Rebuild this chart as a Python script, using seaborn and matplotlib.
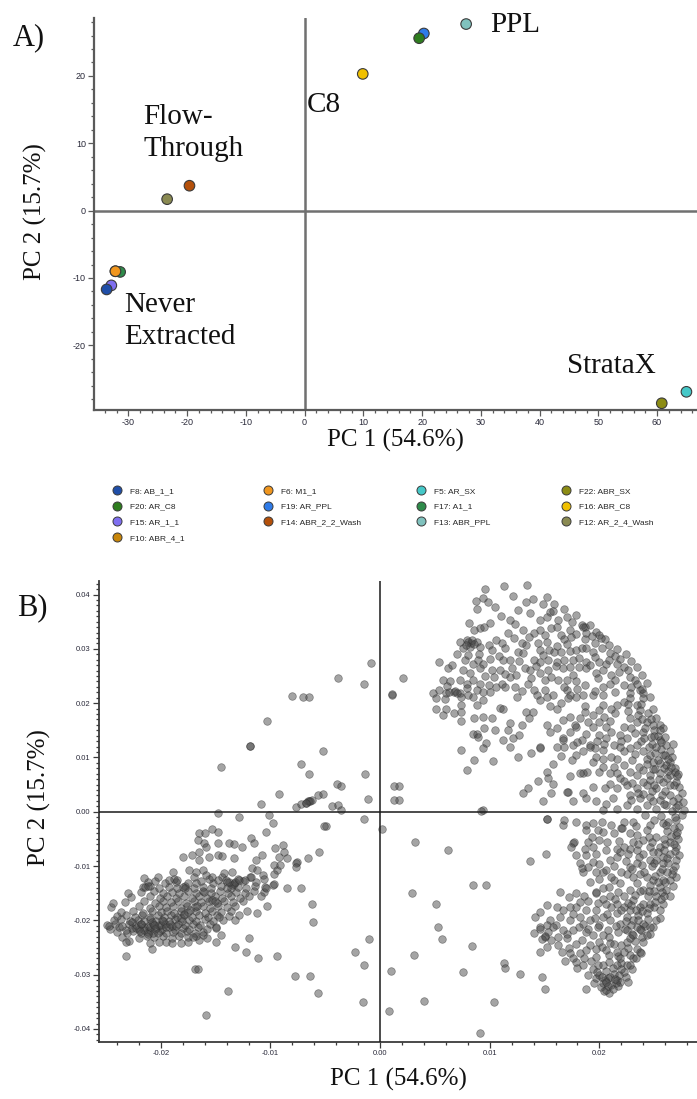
import numpy as np
import pandas as pd
import matplotlib
matplotlib.use("Agg")
import matplotlib.pyplot as plt
import seaborn as sns
from matplotlib.lines import Line2D
from matplotlib.ticker import MultipleLocator, FuncFormatter

# ---------------- Panel A data (scores) ----------------
sample_labels = ["F10: ABR_4_1", "F17: A1_1", "F6: M1_1", "F15: AR_1_1", "F8: AB_1_1",
                 "F19: AR_PPL", "F20: AR_C8", "F16: ABR_C8", "F13: ABR_PPL",
                 "F12: AR_2_4_Wash", "F14: ABR_2_2_Wash", "F22: ABR_SX", "F5: AR_SX"]
pc1_scores = [-32.2, -31.4, -32.2, -32.9, -33.7, 20.3, 19.5, 9.9, 27.5, -23.4, -19.6, 60.8, 65.0]
pc2_scores = [-9.0, -9.1, -9.0, -11.1, -11.7, 26.3, 25.6, 20.3, 27.7, 1.7, 3.7, -28.6, -26.9]
sample_colors = ["#c8860a", "#2e8b4a", "#f0961e", "#7f6ff0", "#1f4ea8",
                 "#2f7be8", "#2e7d1e", "#f0c000", "#80c2be",
                 "#8a8a52", "#b4500a", "#8c8c14", "#45c8c8"]
legend_columns = [["F8: AB_1_1", "F20: AR_C8", "F15: AR_1_1", "F10: ABR_4_1"],
                  ["F6: M1_1", "F19: AR_PPL", "F14: ABR_2_2_Wash"],
                  ["F5: AR_SX", "F17: A1_1", "F13: ABR_PPL"],
                  ["F22: ABR_SX", "F16: ABR_C8", "F12: AR_2_4_Wash"]]
group_names = ["PPL", "C8", "Flow-\nThrough", "Never\nExtracted", "StrataX"]
group_x = [31.6, 0.4, -27.4, -30.7, 44.6]
group_y = [27.6, 15.7, 11.5, -16.4, -23.1]

# ---------------- Panel B data (loadings, in units of 1e-3) ----------------
arc_top = [(9.6,41.0),(11.3,41.6),(13.4,41.8),(12.1,39.7),(9.4,39.3),(8.7,38.9),(9.8,38.7),(13.3,38.6),(13.9,39.1),
 (15.2,39.5),(14.9,38.2),(15.9,38.2),(8.8,37.3),(13.7,36.6),(15.5,36.8),(15.8,37.0),(16.8,37.3),(17.9,36.3),(8.1,34.7),
 (11.8,35.4),(10.0,34.8),(9.1,33.9),(8.6,33.5),(9.5,34.1),(11.7,33.0),(13.0,33.5),(14.0,33.0),(14.6,33.5),(14.6,35.4),
 (15.2,35.8),(15.6,33.8),(16.2,35.4),(17.0,35.8),(17.5,35.0),(18.4,34.4),(18.7,34.1),(19.1,34.4),(16.5,32.5),(16.8,31.9),
 (17.3,33.5),(17.9,32.8),(18.7,31.9),(19.7,33.1),(20.0,32.5),(20.5,31.9),(19.6,31.1),(7.3,31.3),(7.9,31.6),(8.3,31.0),
 (8.2,30.4),(8.8,31.3),(9.1,30.4),(7.6,30.1),(9.9,30.7),(10.2,29.8),(11.1,31.0),(11.4,30.1),(12.9,31.0),(13.3,30.7),
 (14.4,31.0),(15.2,31.3),(12.6,29.5),(13.0,29.2),(14.6,29.8),(14.9,28.9),(15.4,29.8),(15.9,29.5),(16.5,29.5),(17.3,29.7),
 (17.9,29.8),(18.4,30.1),(18.8,30.1),(19.4,29.5),(20.2,30.1),(21.0,29.2),(21.4,28.6),(21.9,28.2),(8.0,31.3),(8.4,31.6),
 (7.8,30.8),(8.6,30.9),(18.5,34.0),(20.1,32.0)]
arc_upper = [(5.4,27.6),(6.2,26.4),(7.7,27.9),(8.5,27.3),(8.9,27.9),(9.4,27.3),(10.0,28.2),(10.8,28.7),(11.2,27.9),
 (11.8,27.9),(14.0,27.9),(14.6,27.6),(15.3,27.9),(16.1,27.6),(17.6,27.9),(18.8,27.6),(19.6,28.5),(20.0,27.6),(20.6,27.3),
 (21.6,27.3),(22.2,26.7),(22.6,26.1),(7.6,26.1),(8.2,25.5),(9.1,26.4),(10.2,26.1),(10.9,26.1),(13.2,26.4),(13.7,26.1),
 (14.6,25.5),(15.3,26.1),(16.7,26.4),(17.3,26.7),(18.1,26.7),(18.8,26.4),(19.7,25.5),(20.3,26.1),(21.1,25.2),(22.8,24.9),
 (23.2,24.3),(5.7,24.3),(6.4,24.0),(7.3,24.3),(7.9,23.6),(8.5,24.3),(9.1,23.6),(9.9,23.3),(10.6,23.0),(11.1,23.6),
 (11.8,24.9),(12.4,25.2),(13.8,24.6),(15.0,24.3),(16.2,24.3),(17.0,24.3),(17.6,25.2),(18.7,23.3),(20.3,23.0),(21.4,24.3),
 (22.2,23.3),(23.7,22.4),(24.0,21.8),(4.8,21.8),(5.4,22.4),(6.0,21.8),(6.7,22.1),(7.3,21.8),(8.0,21.5),(8.8,22.4),
 (9.4,22.1),(10.0,22.1),(11.4,23.0),(12.3,23.0),(14.0,22.4),(14.3,21.5),(15.0,22.4),(15.8,21.5),(17.0,22.4),(17.3,21.5),
 (18.5,21.5),(19.4,21.5),(20.3,21.5),(21.4,22.1),(22.8,21.8),(24.6,21.2),(6.3,22.0),(6.8,22.3),(7.0,21.8),(23.9,22.6),
 (23.4,23.6),(2.1,24.6),(1.1,21.5)]
arc_upper_fill = [(10.5,37.8),(12.6,37.2),(11.0,36.0),(12.3,34.6),(16.1,34.0),(17.4,32.2),(18.8,33.0),(19.3,32.3),
 (20.9,30.8),(21.6,30.0),(22.4,29.0),(22.9,27.8),(23.4,26.6),(23.9,25.2),(24.3,23.8),(22.9,23.0),(21.8,25.8),(20.9,27.9),
 (19.1,27.0),(18.1,28.4),(16.8,28.0),(16.0,26.9),(15.6,24.9),(14.2,26.8),(12.7,27.8),(12.0,26.5),(11.4,25.4),(10.4,24.8),
 (9.6,25.0),(8.0,28.8),(7.0,29.0),(6.6,27.0),(9.0,29.1),(10.6,31.6),(12.2,32.0),(13.6,32.2),(15.0,32.6),(16.1,30.6),
 (17.0,30.9),(6.1,23.1),(7.9,22.8),(12.9,22.3),(13.5,23.6),(16.8,23.0),(18.0,22.6),(19.6,22.3),(21.0,23.6),(19.9,24.6),
 (17.9,24.0)]
arc_mid = [(5.1,20.9),(5.9,20.8),(7.4,21.2),(8.5,21.2),(9.4,20.6),(5.1,19.0),(6.0,19.0),(5.7,17.8),(6.7,18.1),(7.4,19.7),
 (7.4,18.4),(7.4,16.7),(8.8,19.7),(8.6,17.2),(9.4,17.5),(10.2,17.2),(10.9,19.2),(11.2,19.0),(12.5,21.2),(13.3,18.4),
 (13.9,18.4),(13.6,17.2),(14.6,20.6),(15.2,21.2),(15.5,19.4),(16.1,19.0),(16.5,20.0),(17.1,20.9),(17.9,21.2),(18.7,19.4),
 (18.7,18.4),(19.4,17.8),(20.0,18.7),(20.3,19.7),(21.1,19.0),(21.6,19.7),(21.4,18.1),(22.2,20.3),(22.8,20.9),(23.4,19.7),
 (24.0,20.9),(23.7,18.7),(24.4,18.1),(24.9,19.0),(25.2,17.2),(25.5,16.0),(25.8,15.4),(24.3,16.6),(23.4,16.6),(22.8,17.2),
 (22.2,15.7),(21.9,14.1),(22.5,13.5),(24.0,14.7),(24.7,13.8),(25.5,13.2),(26.1,12.3),(26.4,11.1),(25.8,10.4),(26.4,9.2),
 (26.1,8.6),(25.5,8.9),(24.9,9.2),(24.3,9.8),(24.0,11.1),(23.4,12.3),(22.8,11.7),(22.2,11.1),(21.6,9.8),(22.2,8.6),
 (22.8,7.4),(23.4,6.8),(24.0,7.7),(24.6,6.8),(25.5,7.1),(26.4,6.8),(26.9,7.4),(27.0,5.5),(26.4,4.9),(25.8,5.5),
 (25.2,4.3),(24.3,4.9),(23.4,4.3),(22.5,4.9),(21.9,6.2),(21.6,4.3),(21.0,5.2),(20.5,4.3),(22.8,3.1),(23.7,2.5),
 (24.6,2.8),(25.5,2.2),(26.4,3.1),(27.2,2.5),(27.0,0.9),(26.1,1.2),(25.2,0.6),(24.3,1.2),(23.4,0.6),(22.5,1.2),
 (21.6,0.6),(20.6,1.5),(20.3,0.3),(19.7,1.9),(18.8,2.5),(17.6,1.9),(17.1,3.7),(19.4,4.6),(18.5,3.4),(21.0,7.1),
 (20.0,7.4),(18.9,7.4),(18.5,7.1),(20.3,8.3),(21.3,8.3),(19.4,9.2),(19.7,10.1),(20.3,9.8),(21.1,10.1),(17.9,10.4),
 (18.5,11.1),(19.1,12.3),(19.6,11.7),(20.3,11.4),(21.3,12.3),(20.6,13.5),(20.0,14.1),(18.8,14.4),(17.9,15.7),(17.3,14.7),
 (16.7,13.5),(16.1,12.0),(16.8,12.0),(17.6,12.3),(18.4,13.2),(19.4,15.7),(20.0,16.6),(20.6,15.7),(21.1,14.7),(16.7,16.9),
 (17.3,17.5),(16.1,15.4),(15.2,16.0),(15.5,14.7),(14.6,11.7),(13.8,10.8),(12.6,10.1),(11.8,12.0),(11.2,13.2),(12.1,13.5),
 (12.7,14.1),(11.7,15.0),(12.9,16.0),(11.8,16.3),(10.5,15.0),(9.5,15.4),(8.8,14.4),(8.5,14.4),(8.9,13.8),(9.7,12.6),
 (9.4,11.7),(7.4,11.4),(8.6,9.5),(10.3,9.3),(7.9,7.7),(15.2,7.4),(15.3,6.2),(14.4,5.7),(13.5,4.4),(13.0,3.4),
 (15.8,5.2),(17.0,3.7),(17.3,6.5),(14.9,1.9),(15.6,3.4),(9.4,0.3),(9.2,0.2),(18.2,7.1),(19.1,12.0),(17.8,15.9),
 (16.7,13.3),(14.6,11.9),(1.7,4.8),(1.7,2.15)]
rim_upper = [(25.0,15.0),(25.3,14.0),(24.8,12.5),(25.6,11.5),(26.0,10.5),(26.6,10.0),(26.9,8.0),(27.1,6.5),(27.3,4.5),
 (27.5,3.5),(27.6,1.8),(27.7,0.4),(26.7,2.0),(26.0,3.8),(25.4,6.0),(24.9,7.8),(26.2,6.2),(24.6,10.5),(25.1,10.8),
 (23.8,13.0),(23.2,14.5),(24.2,15.5),(23.5,17.8),(24.7,17.0),(26.0,13.8),(26.7,12.5),(25.9,8.0),(24.0,5.5),(23.0,9.5),
 (23.6,8.3),(22.0,13.0),(25.2,12.0),(26.3,7.5),(26.8,5.0),(25.7,3.0),(27.2,1.2),(24.8,3.8),(25.3,9.5),
 (26.6,0.2),(25.9,1.5),(24.9,2.0),(24.0,3.2),(22.9,2.1),(21.2,2.6),(22.2,5.6),(23.0,5.3),(24.6,5.8),(25.1,7.9),
 (24.3,8.8),(23.2,10.6),(24.5,12.0),(25.6,12.8),(25.0,14.0),(24.1,13.6),(22.9,15.4),(23.9,17.0),(24.9,16.0),(25.5,15.0),
 (26.3,9.8),(27.2,6.9),(26.5,8.3),(25.0,4.9),(23.5,3.4),(21.6,7.2),(20.4,12.5),(21.9,12.0),(22.6,18.6),(21.0,16.8),
 (20.4,17.5),(19.0,16.6),(18.2,17.2),(19.8,13.0),(18.0,12.8),(17.5,9.5),(16.5,10.2),(15.8,8.8),(23.8,19.8),(22.6,19.8)]
arc_low = [(15.2,-1.4),(16.7,-2.5),(16.8,-1.5),(17.9,-1.8),(18.8,-2.5),(19.4,-2.1),(20.2,-1.8),(21.1,-2.5),(18.8,-3.4),
 (19.9,-3.4),(20.3,-3.7),(22.2,-1.8),(23.1,-1.8),(24.6,-2.5),(25.8,-2.1),(27.0,-1.5),(27.5,-0.6),(27.3,-2.8),(27.0,-4.3),
 (26.4,-5.5),(27.0,-6.4),(26.4,-7.7),(27.0,-8.9),(26.7,-10.7),(27.0,-12.0),(26.4,-12.6),(26.1,-14.4),(26.4,-15.6),
 (25.8,-16.9),(25.5,-18.1),(25.2,-20.0),(24.9,-21.2),(24.0,-20.6),(23.4,-21.2),(24.3,-18.7),(24.6,-16.9),(25.2,-15.6),
 (25.5,-13.8),(25.8,-12.6),(25.5,-11.0),(25.8,-9.5),(25.8,-8.3),(25.5,-6.4),(25.2,-4.6),(24.3,-3.4),(23.4,-4.3),
 (22.8,-4.0),(24.0,-5.2),(24.6,-6.4),(25.2,-8.9),(24.6,-8.9),(24.0,-7.7),(23.4,-7.1),(22.8,-6.8),(22.2,-6.4),(22.6,-7.7),
 (21.9,-7.4),(21.6,-8.3),(21.0,-8.9),(20.6,-7.1),(20.0,-5.2),(19.3,-4.6),(19.4,-6.4),(19.7,-7.7),(19.4,-9.2),(18.8,-8.0),
 (18.7,-6.8),(17.6,-5.8),(17.7,-5.5),(17.4,-6.4),(15.1,-7.7),(13.7,-9.0),(6.2,-7.1),(18.5,-11.0),(18.4,-10.4),(19.1,-12.9),
 (19.7,-11.0),(20.3,-11.0),(20.0,-12.3),(20.6,-10.7),(21.3,-12.6),(21.9,-13.2),(22.5,-11.4),(22.8,-10.1),(23.4,-9.5),
 (23.7,-11.4),(24.3,-12.0),(23.4,-13.2),(24.0,-14.4),(22.8,-14.4),(22.2,-15.6),(23.1,-16.3),(23.7,-17.5),(22.8,-18.1),
 (22.2,-17.5),(21.6,-16.9),(21.0,-15.6),(20.3,-14.1),(19.7,-15.0),(20.3,-16.0),(21.1,-17.5),(21.6,-18.7),(22.5,-19.3),
 (23.1,-20.0),(21.9,-20.6),(21.0,-20.0),(20.3,-19.3),(19.7,-18.1),(18.8,-18.1),(17.9,-17.5),(17.3,-17.5),(16.7,-18.1),
 (16.1,-17.5),(15.2,-17.2),(14.6,-18.4),(14.1,-19.3),(16.4,-14.7),(17.2,-15.7),(17.9,-14.9),(18.6,-15.5),(19.7,-14.7),
 (19.1,-20.0),(18.2,-19.3),(17.3,-20.0),(16.4,-19.3),(15.5,-20.0),(14.6,-21.2),(15.2,-20.9),(5.1,-16.9),(8.5,-13.5),
 (9.7,-13.5),(15.2,-1.35),(3.2,-5.6)]
rim_lower = [(26.8,-3.0),(26.2,-3.5),(26.0,-6.0),(26.3,-9.5),(26.6,-11.5),(26.0,-13.0),(25.0,-14.5),(25.6,-16.0),
 (25.0,-17.5),(24.4,-19.8),(24.0,-17.0),(23.5,-19.0),(23.8,-21.8),(23.0,-22.5),(22.3,-21.5),(24.9,-12.5),(26.9,-7.2),
 (25.9,-5.0),(25.0,-1.5),(24.8,-10.0),(23.9,-9.8),(23.1,-12.0),(25.5,-19.5),(24.6,-22.5),(26.5,-4.5),(25.3,-7.5),
 (25.1,-11.8),(24.4,-15.5),(23.9,-18.2),(22.9,-20.8)]
arc_low_fill = [(26.9,-1.0),(26.3,-1.8),(25.6,-0.8),(24.2,-0.6),(23.3,-2.6),(22.0,-3.0),(21.3,-4.0),(21.8,-5.4),
 (23.1,-5.5),(24.5,-4.6),(26.1,-2.5),(27.2,-5.0),(26.8,-6.0),(25.9,-7.1),(24.9,-7.5),(23.6,-8.4),(22.4,-9.0),(21.3,-10.0),
 (22.0,-11.0),(23.0,-10.6),(24.1,-11.0),(25.0,-9.4),(26.2,-8.5),(26.9,-10.0),(26.2,-11.0),(25.3,-12.9),(24.6,-13.5),
 (23.7,-14.6),(23.2,-15.3),(24.5,-14.6),(25.7,-14.8),(26.7,-13.6),(25.9,-15.5),(25.1,-16.6),(24.5,-17.8),(23.3,-18.0),
 (22.6,-16.8),(21.7,-14.7),(20.9,-13.8),(21.4,-16.0),(20.6,-17.0),(19.9,-16.8),(19.0,-16.5),(18.2,-16.6),(17.6,-18.8),
 (18.5,-20.6),(20.0,-20.8),(20.8,-21.8),(21.5,-21.0),(22.4,-20.2),(23.5,-20.0),(24.2,-21.0),(23.9,-23.0),(23.2,-23.8),
 (22.0,-24.5),(21.0,-24.2),(20.2,-24.9),(20.9,-26.3),(21.7,-26.6),(22.6,-25.0),(22.0,-27.8),(21.2,-28.8),(20.6,-29.4),
 (19.9,-28.2),(19.2,-27.4),(18.6,-27.0),(18.0,-28.7),(19.5,-31.5),(20.1,-32.2),(20.9,-33.3),(21.7,-32.0),(22.4,-30.5),
 (23.0,-29.0),(22.6,-31.3),(21.9,-31.3),(20.4,-33.0),(17.0,-22.6),(16.2,-23.0),(16.0,-20.8),(17.9,-24.4),(17.2,-25.0),
 (16.6,-25.8),(16.9,-27.4),(15.8,-21.2),(18.1,-21.3),(19.0,-21.5),(19.6,-19.5),(20.7,-18.8),(22.0,-18.0),(22.9,-17.2),
 (21.1,-12.0),(20.0,-9.7),(19.0,-10.2),(18.2,-9.4),(17.9,-7.9),(19.0,-5.5),(20.7,-5.6),(21.6,-6.8),(23.5,-6.0),
 (22.1,-2.9),(24.8,-5.6),(25.7,-10.5),(27.3,-8.0),(27.1,-3.8)]
arc_bottom = [(5.3,-21.2),(5.6,-23.4),(8.4,-24.8),(7.6,-29.5),(11.3,-27.8),(11.4,-28.7),(12.8,-29.8),(14.8,-30.5),
 (15.0,-32.7),(10.4,-35.1),(9.1,-40.8),(18.8,-32.7),(14.0,-22.4),(14.6,-21.5),(15.0,-23.0),(15.3,-22.1),(15.6,-23.6),
 (16.2,-24.6),(14.6,-25.8),(15.2,-24.9),(17.0,-23.3),(17.6,-21.8),(16.7,-21.8),(18.4,-23.6),(18.8,-22.1),(19.4,-22.7),
 (19.9,-21.2),(20.3,-22.7),(20.9,-23.0),(21.7,-22.1),(22.5,-21.8),(23.1,-22.7),(23.7,-21.5),(24.6,-21.2),(24.3,-22.7),
 (24.0,-23.9),(23.4,-25.2),(22.8,-26.4),(23.7,-25.8),(23.1,-27.0),(22.5,-28.2),(22.2,-29.5),(21.6,-31.0),(21.1,-31.9),
 (20.6,-32.8),(20.3,-31.6),(19.7,-30.7),(20.0,-30.1),(20.8,-30.7),(21.3,-29.8),(21.6,-28.2),(21.9,-27.0),(22.2,-25.8),
 (20.9,-27.6),(20.3,-28.2),(19.4,-28.9),(19.0,-30.1),(18.5,-28.2),(17.9,-27.6),(18.2,-26.1),(17.3,-26.1),(17.6,-27.0),
 (19.7,-26.7),(19.7,-25.2),(20.6,-25.5),(21.3,-24.3),(21.6,-25.8),(20.0,-23.9),(19.1,-24.6),(18.8,-25.5),(22.5,-23.9),
 (22.8,-23.3),(20.5,-31.0),(21.0,-30.5),(21.5,-31.5),(20.8,-32.0),(21.2,-32.6),(20.2,-30.5),(19.8,-29.5),(21.8,-30.0),
 (22.0,-29.0),(22.8,-28.3),(23.3,-27.0),(23.8,-26.0),(20.6,-31.4),(21.4,-30.8),(15.0,-22.8),(14.8,-23.4),
 (3.1,-26.4),(1.0,-29.3),(4.0,-34.8),(0.85,-36.7),(2.9,-14.9)]
left_core = [(-22.9,-23.8),(-21.0,-24.1),(-19.5,-23.9),(-18.2,-24.2),(-16.5,-23.7),(-15.0,-24.0),
 (-23.5,-23.0),(-22.0,-23.2),(-21.3,-22.8),(-20.6,-23.1),(-19.8,-22.9),(-19.0,-23.2),(-18.3,-22.8),(-17.5,-23.1),
 (-16.8,-22.9),(-15.8,-23.2),(-24.0,-22.2),(-23.1,-22.4),(-22.5,-22.0),(-21.8,-22.3),(-21.2,-22.1),(-20.7,-22.4),
 (-20.1,-22.0),(-19.5,-22.3),(-18.9,-22.1),(-18.2,-22.4),(-17.6,-22.0),(-16.9,-22.3),(-16.2,-22.1),(-24.6,-21.5),
 (-23.8,-21.3),(-23.2,-21.7),(-22.6,-21.4),(-22.0,-21.6),(-21.5,-21.3),(-21.0,-21.7),(-20.4,-21.4),(-19.9,-21.6),
 (-19.3,-21.3),(-18.7,-21.7),(-18.0,-21.4),(-17.4,-21.6),(-16.6,-21.3),(-15.8,-21.6),(-15.0,-21.4),(-24.9,-20.8),
 (-24.2,-20.6),(-23.5,-21.0),(-22.9,-20.7),(-22.3,-20.9),(-21.8,-20.6),(-21.2,-21.0),(-20.7,-20.7),(-20.2,-20.9),
 (-19.6,-20.6),(-19.0,-21.0),(-18.4,-20.7),(-17.8,-20.9),(-17.1,-20.6),(-16.4,-20.9),(-15.5,-20.7),(-24.3,-20.0),
 (-23.6,-19.8),(-22.8,-20.2),(-22.1,-19.9),(-21.5,-20.1),(-21.0,-19.8),(-20.4,-20.2),(-19.9,-19.9),(-19.3,-20.1),
 (-18.7,-19.8),(-18.1,-20.2),(-17.4,-19.9),(-16.8,-20.1),(-16.0,-19.8),(-15.2,-20.2),(-14.3,-19.9),(-24.0,-19.2),
 (-23.2,-19.0),(-22.4,-19.4),(-21.7,-19.1),(-21.0,-19.3),(-20.3,-19.0),(-19.7,-19.4),(-19.1,-19.1),(-18.5,-19.3),
 (-17.9,-19.0),(-17.2,-19.4),(-16.5,-19.1),(-15.7,-19.3),(-14.9,-19.0),(-13.8,-19.2),(-23.6,-18.4),(-22.5,-18.2),
 (-21.6,-18.6),(-20.8,-18.3),(-20.0,-18.5),(-19.4,-18.2),(-18.8,-18.6),(-18.2,-18.3),(-17.5,-18.5),(-16.8,-18.2),
 (-16.0,-18.6),(-15.3,-18.3),(-14.5,-18.5),(-13.6,-18.2),(-24.5,-17.5),(-22.0,-17.3),(-21.0,-17.7),(-20.2,-17.4),
 (-19.5,-17.6),(-18.9,-17.3),(-18.2,-17.7),(-17.6,-17.4),(-16.9,-17.6),(-16.2,-17.3),(-15.5,-17.7),(-14.8,-17.4),
 (-14.0,-17.6),(-13.2,-17.3),(-23.3,-16.6),(-21.5,-16.4),(-20.5,-16.8),(-19.8,-16.5),(-19.1,-16.7),(-18.4,-16.4),
 (-17.7,-16.8),(-17.0,-16.5),(-16.3,-16.7),(-15.6,-16.4),(-14.9,-16.8),(-14.2,-16.5),(-13.4,-16.7),(-12.5,-16.4),
 (-22.7,-15.7),(-21.0,-15.5),(-20.1,-15.9),(-19.4,-15.6),(-18.6,-15.8),(-17.9,-15.5),(-17.2,-15.9),(-16.5,-15.6),
 (-15.8,-15.8),(-15.1,-15.5),(-14.4,-15.9),(-13.6,-15.6),(-12.8,-15.8),(-12.0,-15.5),(-21.8,-14.8),(-20.6,-14.6),
 (-19.8,-15.0),(-19.0,-14.7),(-18.3,-14.9),(-17.5,-14.6),(-16.8,-15.0),(-16.1,-14.7),(-15.4,-14.9),(-14.6,-14.6),
 (-13.9,-15.0),(-13.1,-14.7),(-12.3,-14.9),(-11.5,-14.6),(-10.6,-14.8),(-21.6,-13.9),(-21.0,-13.7),(-20.2,-14.1),
 (-19.3,-13.8),(-18.5,-14.0),(-17.8,-13.7),(-17.0,-14.1),(-16.2,-13.8),(-15.4,-14.0),(-14.5,-13.7),(-13.6,-14.1),
 (-13.0,-13.8),(-12.2,-14.0),(-11.4,-13.7),(-10.5,-13.9),(-21.2,-13.0),(-20.5,-12.8),(-19.6,-13.2),(-18.6,-12.9),
 (-17.5,-13.1),(-16.3,-12.8),(-15.2,-13.2),(-14.0,-12.9),(-13.3,-13.1),(-12.5,-12.8),(-11.3,-13.0),(-21.5,-12.2),
 (-20.3,-12.0),(-18.8,-12.4),(-17.0,-12.1),(-15.6,-12.3),(-14.4,-12.0),(-13.0,-12.4),(-11.9,-12.1),
 (-21.5,-21.8),(-21.0,-21.2),(-20.5,-21.6),(-20.0,-20.9),(-21.8,-20.6),(-22.3,-21.4),(-20.8,-20.3),(-19.5,-21.3),
 (-21.2,-22.5),(-20.3,-22.3),(-19.8,-20.2),(-22.6,-20.3),(-21.9,-21.9),(-20.6,-20.8),(-19.2,-20.6),(-18.6,-21.0),
 (-18.2,-19.6),(-17.9,-18.9),(-17.3,-18.0),(-16.7,-17.3),(-21.4,-13.8),(-21.2,-13.6),(-18.0,-13.8),(-17.8,-14.0),
 (-15.3,-16.3),(-15.1,-16.5),(-13.5,-13.5),(-13.3,-13.3),(-16.8,-13.2),(-16.2,-14.6),(-14.0,-14.0),(-13.8,-13.0)]
left_upper = [(-9.2,3.3),(-10.9,1.5),(-7.7,0.9),(-7.2,1.4),(-6.8,1.7),(-6.5,1.9),(-6.2,2.2),(-5.7,3.1),(-5.2,3.3),
 (-6.6,1.9),(-6.4,2.0),(-6.8,1.6),(-4.4,1.1),(-3.8,1.2),(-3.6,0.4),(-14.8,-0.3),(-12.9,-1.0),(-10.1,-0.6),(-9.8,-2.0),
 (-10.4,-3.7),(-4.9,-2.6),(-16.5,-3.9),(-16.0,-4.0),(-15.3,-3.1),(-14.8,-3.7),(-16.6,-5.2),(-16.1,-5.8),(-15.9,-6.4),
 (-14.8,-5.8),(-13.8,-5.8),(-13.3,-5.9),(-12.6,-6.4),(-11.8,-4.9),(-11.5,-5.7),(-9.6,-6.6),(-8.9,-6.1),(-8.8,-7.4),
 (-5.6,-7.5),(-6.6,-8.6),(-7.6,-9.2),(-7.7,-9.4),(-7.7,-10.1),(-8.5,-8.6),(-9.2,-8.3),(-9.7,-9.8),(-9.4,-10.7),
 (-18.0,-8.3),(-17.2,-7.9),(-16.5,-7.4),(-16.5,-8.9),(-15.6,-8.3),(-14.8,-8.0),(-14.4,-8.2),(-13.3,-8.6),(-18.9,-11.0),
 (-19.3,-12.6),(-18.5,-12.6),(-17.4,-10.7),(-16.8,-11.0),(-16.2,-10.7),(-15.9,-11.7),(-15.3,-12.0),(-14.8,-12.6),
 (-14.2,-11.2),(-13.5,-11.0),(-14.1,-12.6),(-13.2,-12.9),(-12.9,-12.6),(-12.3,-12.6),(-11.8,-12.0),(-11.7,-10.4),
 (-11.2,-10.7),(-10.7,-11.7),(-11.3,-8.9),(-10.8,-7.9),(-10.6,-12.3),(-9.8,-13.5),(-9.7,-13.3),(-10.4,-14.1),
 (-9.7,-11.4),(-9.1,-9.8),(-10.9,-15.5),(-10.3,-17.4),(-8.5,-14.1),(-7.2,-14.1),(-6.2,-17.0),(-6.1,-20.3),
 (-11.2,-18.7),(-12.1,-18.2),(-13.2,-20.0),(-12.9,-19.0),(-14.7,-19.3),(-15.0,-21.2),(-14.5,-22.7),(-16.2,-22.7),
 (-17.1,-23.0),(-12.0,-23.3)]
sparse_pts = [(-0.8,27.4),(-3.8,24.7),(-1.5,23.6),(1.07,21.6),(-8.0,21.4),(-7.0,21.2),(-6.5,21.2),(-10.3,16.8),
 (-11.9,12.1),(-11.9,12.2),(-5.2,11.2),(-14.5,8.3),(-7.2,8.85),(-6.5,7.0),(-1.4,6.9),(-3.9,5.2),(-3.6,4.7),(-1.1,2.4),
 (1.3,4.8),(1.3,2.2),(-5.1,-2.6),(-1.5,-1.4),(0.16,-3.1),(-23.0,-15.0),(-24.4,-16.8),
 (-24.7,-21.1),(-23.2,-24.0),(-23.2,-26.5),(-20.8,-25.3),(-16.9,-29.0),(-16.6,-29.0),(-13.9,-33.0),(-15.9,-37.4),
 (-13.2,-24.9),(-12.2,-25.9),(-11.1,-26.9),(-9.4,-26.6),(-7.8,-30.2),(-6.4,-30.2),(-5.7,-33.3),
 (-1.0,-23.4),(-2.3,-25.9),(-1.5,-28.2),(-1.6,-35.1),(-19.0,-24.2),(-20.2,-24.0),(-17.5,-24.0)]

# ---------------- figure ----------------
sns.set_theme(style="white")
plt.rcParams['font.family'] = ['Liberation Sans', 'DejaVu Sans']
plt.rcParams['axes.unicode_minus'] = False
SERIF = ['Liberation Serif', 'DejaVu Serif']

fig = plt.figure(figsize=(6.97, 10.99), dpi=100)
W, H = 697.0, 1099.0

def frac_axes(l, t, r, b):
    return [l / W, 1 - b / H, (r - l) / W, (b - t) / H]

# ---- Panel A ----
axA = fig.add_axes(frac_axes(94.3, 18, 697, 410))
dfA = pd.DataFrame({"sample": sample_labels, "pc1": pc1_scores, "pc2": pc2_scores})
palette = dict(zip(sample_labels, sample_colors))
axA.axhline(0, color="#707070", lw=1.8, zorder=1)
axA.axvline(0, color="#707070", lw=1.8, zorder=1)
sns.scatterplot(data=dfA, x="pc1", y="pc2", hue="sample", palette=palette, s=58,
                edgecolor="#3a3a3a", linewidth=0.8, legend=False, ax=axA, zorder=3)
axA.set_xlim(-35.8, 66.8)
axA.set_ylim(-29.6, 28.6)
for name, gx, gy in zip(group_names, group_x, group_y):
    axA.text(gx, gy, name, family=SERIF, fontsize=21, ha="left", va="center",
             linespacing=1.3, color="#111111")

# ---- Panel B ----
axB = fig.add_axes(frac_axes(99, 581, 697, 1042))
pts = (arc_top + arc_upper + arc_upper_fill + arc_mid + rim_upper + arc_low + rim_lower + arc_low_fill
       + arc_bottom + left_core + left_upper + sparse_pts)
dfB = pd.DataFrame(pts, columns=["pc1", "pc2"]) * 1e-3
axB.axhline(0, color="#1a1a1a", lw=1.1, zorder=4)
axB.axvline(0, color="#1a1a1a", lw=1.1, zorder=4)
sns.scatterplot(data=dfB, x="pc1", y="pc2", ax=axB, s=30, color="#4a4a4a", alpha=0.5,
                edgecolor="#2a2a2a", linewidth=0.5, legend=False, zorder=3)
axB.set_xlim(-0.02564, 0.0289)
axB.set_ylim(-0.0424, 0.0425)

# ---- axes styling ----
for ax, col, lw in [(axA, "#5a5a5a", 1.6), (axB, "#3a3a3a", 1.3)]:
    for s in ["top", "right"]:
        ax.spines[s].set_visible(False)
    for s in ["left", "bottom"]:
        ax.spines[s].set_visible(True)
        ax.spines[s].set_color(col)
        ax.spines[s].set_linewidth(lw)
    ax.grid(False)
    ax.tick_params(which="both", direction="out", color=col, width=0.9,
                   bottom=True, left=True, labelcolor="#2a2a3a")
    ax.tick_params(which="major", length=4, pad=2)
    ax.tick_params(which="minor", length=2)

axA.xaxis.set_major_locator(MultipleLocator(10))
axA.xaxis.set_minor_locator(MultipleLocator(2))
axA.yaxis.set_major_locator(MultipleLocator(10))
axA.yaxis.set_minor_locator(MultipleLocator(2))
axA.tick_params(labelsize=6.5)
axB.xaxis.set_major_locator(MultipleLocator(0.01))
axB.xaxis.set_minor_locator(MultipleLocator(0.002))
axB.yaxis.set_major_locator(MultipleLocator(0.01))
axB.yaxis.set_minor_locator(MultipleLocator(0.001))
fmt2 = FuncFormatter(lambda v, p: f"{round(v, 4) + 0.0:.2f}")
axB.xaxis.set_major_formatter(fmt2)
axB.yaxis.set_major_formatter(fmt2)
axB.tick_params(labelsize=5.5)

for ax, xl_y, yl_x, yl_y in [(axA, -0.078, -0.097, 0.505), (axB, -0.082, -0.099, 0.53)]:
    ax.set_xlabel("PC 1 (54.6%)", family=SERIF, fontsize=18, color="#111111")
    ax.set_ylabel("PC 2 (15.7%)", family=SERIF, fontsize=18, color="#111111")
    ax.xaxis.set_label_coords(0.5, xl_y)
    ax.xaxis.label.set_va("center")
    ax.yaxis.set_label_coords(yl_x, yl_y)
    ax.yaxis.label.set_va("center")

fig.text(13 / W, 1 - 38 / H, "A)", family=SERIF, fontsize=22, ha="left", va="center", color="#111111")
fig.text(17 / W, 1 - 608 / H, "B)", family=SERIF, fontsize=22, ha="left", va="center", color="#111111")

# ---- legend (4 columns) ----
col_x = [113, 264, 417, 562]
for cx, entries in zip(col_x, legend_columns):
    handles = [Line2D([], [], marker="o", linestyle="", markersize=6.5,
                      markerfacecolor=palette[e], markeredgecolor="#3a3a3a", markeredgewidth=0.7)
               for e in entries]
    fig.legend(handles, entries, loc="upper left", bbox_to_anchor=(cx / W, 1 - 487 / H),
               frameon=False, handlelength=1.0, handletextpad=1.0,
               labelspacing=0.95, borderpad=0, borderaxespad=0,
               prop={"family": ["Liberation Sans"], "size": 6})

fig.savefig("out.png", dpi=100)
